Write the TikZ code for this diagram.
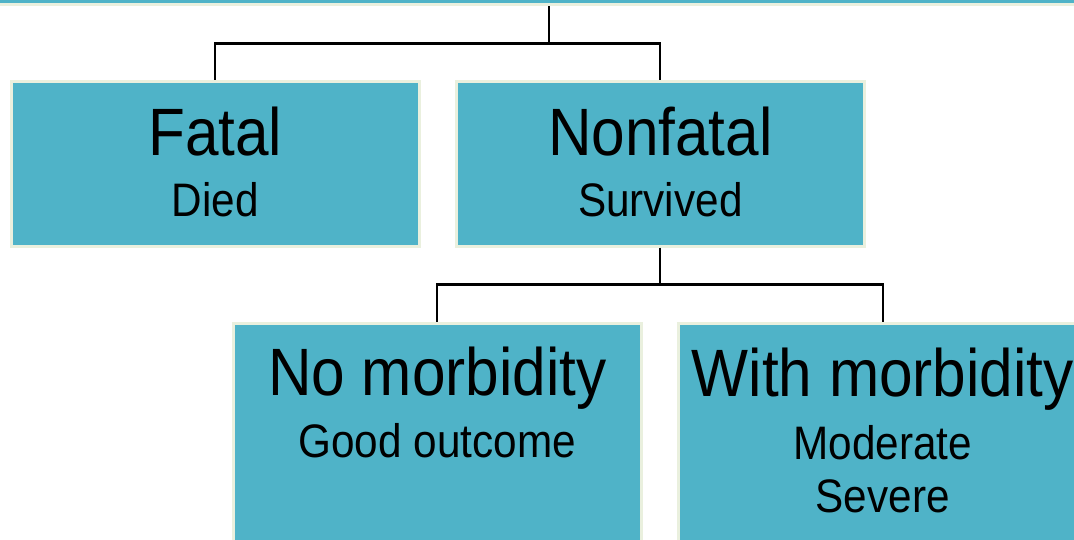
\documentclass[tikz,border=0pt]{standalone}
\usepackage{fontspec}
\usepackage{xcolor}
\newfontfamily\boxfont{Liberation Sans}[FakeStretch=0.9]
\definecolor{boxfill}{RGB}{79,179,200}
\definecolor{boxedge}{RGB}{234,240,222}

\begin{document}
\begin{tikzpicture}[x=1pt,y=-1pt,
boxshape/.style={draw=boxedge,fill=boxfill,line width=3pt,inner sep=0pt,minimum width=407.7pt},
upperbox/.style={boxshape,minimum height=164.7pt},
lowerbox/.style={boxshape,minimum height=240pt},
boxtitle/.style={anchor=base,inner sep=0pt,font=\boxfont\fontsize{67}{70}\selectfont},
boxsub/.style={anchor=base,inner sep=0pt,font=\boxfont\fontsize{47}{53}\selectfont},
link/.style={line width=2.3pt,black,line join=miter}]
\useasboundingbox (0,0) rectangle (1074,540);
\clip (0,0) rectangle (1074,540);

% The top box, mostly off the page:
\node [boxshape,minimum width=1200pt,minimum height=100pt] (root) at (549,-45) {};

% First row
\node [upperbox] (fatal) at (215.3,163.85) {};
\node [upperbox] (nonfatal) at (660.3,163.85) {};
% Second row
\node [lowerbox] (no morbidity) at (437.3,443.2) {};
\node [lowerbox] (with morbidity) at (882.7,443.2) {};

% Texts in the boxes
\node [boxtitle] (fatal title) at ([yshift=-76pt]fatal.north) {Fatal};
\node [boxsub] (fatal sub) at ([yshift=-137pt]fatal.north) {Died};
\node [boxtitle] (nonfatal title) at ([yshift=-76pt]nonfatal.north) {Nonfatal};
\node [boxsub] (nonfatal sub) at ([yshift=-137pt]nonfatal.north) {Survived};
\node [boxtitle] (no title) at ([yshift=-74pt]no morbidity.north) {No morbidity};
\node [boxsub] (no sub) at ([yshift=-136pt]no morbidity.north) {Good outcome};
\node [boxtitle] (with title) at ([yshift=-75pt]with morbidity.north) {With morbidity};
\node [boxsub] (with sub one) at ([yshift=-138pt]with morbidity.north) {Moderate};
\node [boxsub] (with sub two) at ([yshift=-191pt]with morbidity.north) {Severe};

% Connectors
\coordinate (top bus) at (549,43.5);
\coordinate (low bus) at (660.3,284.5);
\draw [link] (root.south) -- (top bus);
\draw [link] (fatal.north) |- (top bus) -| (nonfatal.north);
\draw [link] (nonfatal.south) -- (low bus);
\draw [link] (no morbidity.north) |- (low bus) -| (with morbidity.north);
\end{tikzpicture}
\end{document}
